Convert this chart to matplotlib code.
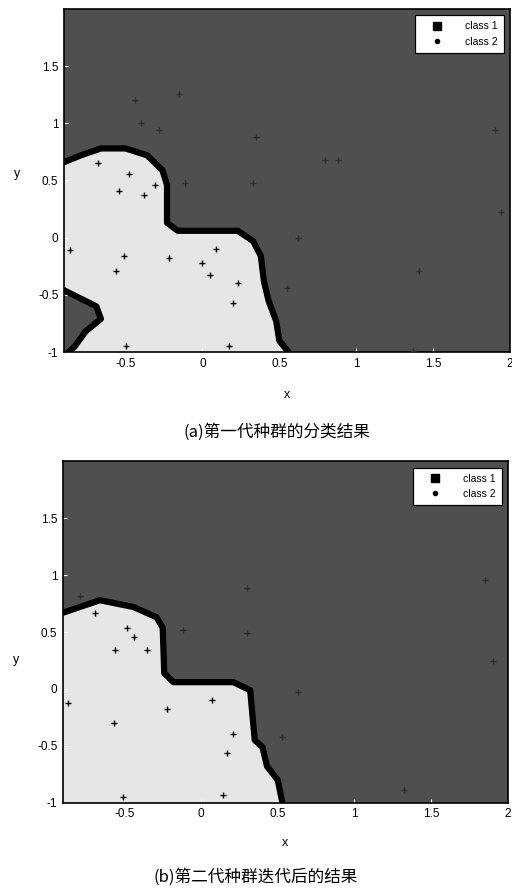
import matplotlib
matplotlib.use("Agg")
import matplotlib.pyplot as plt
from matplotlib.lines import Line2D

plt.rcParams['font.family'] = ['Liberation Sans', 'Noto Sans CJK SC', 'DejaVu Sans']

# ---- data ----
xlim = [-0.9, 2.0]
ylim = [-1.0, 2.0]
xticks = [-0.5, 0, 0.5, 1, 1.5, 2]
xticklabels = ['-0.5', '0', '0.5', '1', '1.5', '2']
yticks = [-1, -0.5, 0, 0.5, 1, 1.5]
yticklabels = ['-1', '-0.5', '0', '0.5', '1', '1.5']
captions = ['(a)第一代种群的分类结果', '(b)第二代种群迭代后的结果']
legend_labels = ['class 1', 'class 2']

# decision boundary (light region lies to the lower-left)
bound1_x = [-0.9, -0.79, -0.66, -0.50, -0.36, -0.26, -0.23, -0.23, -0.16, 0.23, 0.33, 0.38, 0.40, 0.43, 0.48, 0.50, 0.56]
bound1_y = [0.66, 0.72, 0.78, 0.78, 0.72, 0.59, 0.46, 0.13, 0.06, 0.06, -0.03, -0.16, -0.38, -0.55, -0.73, -0.90, -1.0]
hole1_x = [-0.9, -0.69, -0.66, -0.76, -0.83, -0.87]
hole1_y = [-0.46, -0.60, -0.71, -0.82, -0.95, -1.0]

bound2_x = [-0.9, -0.66, -0.44, -0.29, -0.25, -0.24, -0.18, 0.21, 0.32, 0.35, 0.40, 0.43, 0.50, 0.53]
bound2_y = [0.67, 0.78, 0.72, 0.63, 0.54, 0.14, 0.06, 0.06, -0.01, -0.45, -0.51, -0.68, -0.80, -1.0]

# sample points
light1_x = [-0.68, -0.48, -0.54, -0.38, -0.31, -0.86, -0.51, -0.56, -0.22, 0.0, 0.09, 0.05, 0.23, 0.20, -0.50, 0.17]
light1_y = [0.65, 0.56, 0.41, 0.37, 0.46, -0.11, -0.16, -0.29, -0.18, -0.22, -0.10, -0.33, -0.40, -0.57, -0.95, -0.95]
dark1_x = [-0.44, -0.40, -0.28, -0.15, 0.35, 0.80, 0.88, 1.90, -0.11, 0.33, 0.55, 0.62, 1.41, 1.94, 1.37]
dark1_y = [1.20, 1.00, 0.94, 1.26, 0.88, 0.68, 0.68, 0.94, 0.48, 0.48, -0.44, 0.0, -0.29, 0.22, -0.99]

light2_x = [-0.69, -0.48, -0.44, -0.56, -0.35, -0.87, -0.22, -0.57, 0.07, 0.21, 0.17, -0.51, 0.14]
light2_y = [0.67, 0.54, 0.46, 0.34, 0.34, -0.12, -0.18, -0.30, -0.10, -0.40, -0.56, -0.95, -0.93]
dark2_x = [-0.79, 0.30, 0.30, -0.12, 1.85, 1.90, 0.63, 0.53, 1.32]
dark2_y = [0.82, 0.89, 0.49, 0.52, 0.96, 0.25, -0.03, -0.42, -0.89]

DARK = '#4f4f4f'
LIGHT = '#e6e6e6'

fig = plt.figure(figsize=(5.12, 8.89), dpi=100)
ax1 = fig.add_axes([0.125, 0.604, 0.871, 0.386])
ax2 = fig.add_axes([0.123, 0.097, 0.869, 0.384])


def draw(ax, bx, by, lx, ly, dx, dy, caption, cap_x, cap_y, ylab_y, xlab_pad, hole=None):
    ax.set_facecolor(DARK)
    px = list(bx) + [xlim[0]]
    py = list(by) + [ylim[0]]
    ax.fill(px, py, color=LIGHT, zorder=1)
    ax.plot(bx, by, color='black', lw=4.5, solid_joinstyle='round', solid_capstyle='round', zorder=2)
    if hole is not None:
        hx, hy = hole
        ax.fill(list(hx) + [xlim[0]], list(hy) + [ylim[0]], color=DARK, zorder=1.5)
        ax.plot(hx, hy, color='black', lw=4.5, zorder=2)
    ax.scatter(lx, ly, marker='+', s=16, c='black', linewidths=1.0, zorder=3)
    ax.scatter(dx, dy, marker='+', s=16, c='#2e2e2e', linewidths=1.0, zorder=3)
    ax.set_xlim(xlim)
    ax.set_ylim(ylim)
    ax.set_xticks(xticks)
    ax.set_xticklabels(xticklabels, fontsize=8.5)
    ax.set_yticks(yticks)
    ax.set_yticklabels(yticklabels, fontsize=8.5)
    ax.tick_params(direction='in', length=3, color='white', pad=4)
    for s in ax.spines.values():
        s.set_linewidth(1.2)
    ax.set_xlabel('x', fontsize=9, labelpad=xlab_pad)
    ax.set_ylabel('y', fontsize=9, rotation=0)
    ax.yaxis.set_label_coords(-0.105, ylab_y)
    handles = [Line2D([], [], marker='s', color='none', markerfacecolor='black', markeredgecolor='black', markersize=6),
               Line2D([], [], marker='.', color='none', markerfacecolor='black', markeredgecolor='black', markersize=6)]
    leg = ax.legend(handles, legend_labels, loc='upper right', fontsize=7.5, frameon=True, fancybox=False,
                    edgecolor='black', framealpha=1, borderpad=0.6, handlelength=3.0, handletextpad=1.2,
                    labelspacing=0.5, borderaxespad=0.6)
    leg.get_frame().set_linewidth(0.9)
    fig.text(cap_x, cap_y, caption, ha='center', va='center', fontsize=12,
             family=['Noto Sans CJK SC', 'DejaVu Sans'])


draw(ax1, bound1_x, bound1_y, light1_x, light1_y, dark1_x, dark1_y, captions[0], 0.54, 0.514, 0.5, 14,
     hole=(hole1_x, hole1_y))
draw(ax2, bound2_x, bound2_y, light2_x, light2_y, dark2_x, dark2_y, captions[1], 0.5, 0.013, 0.40, 12)

fig.savefig('out.png', dpi=100)
